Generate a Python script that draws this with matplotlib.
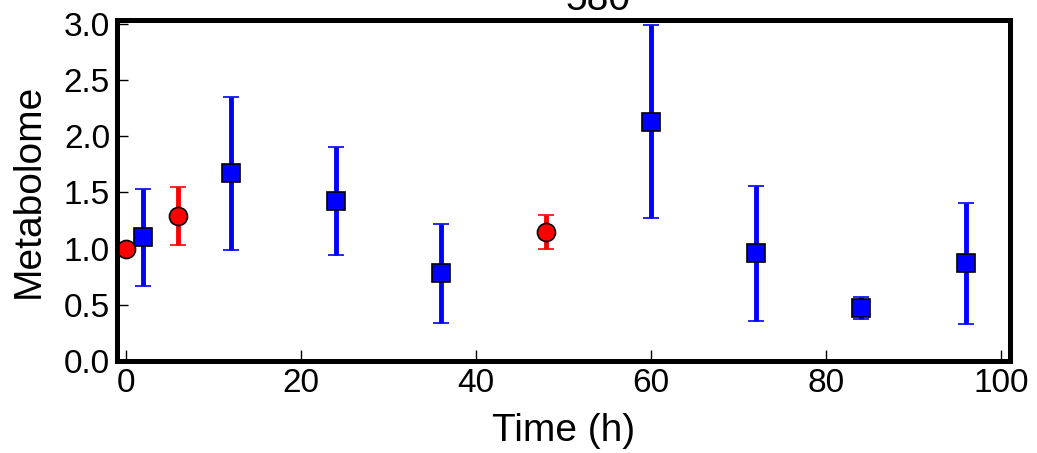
import matplotlib
matplotlib.use('Agg')
import matplotlib.pyplot as plt

plt.rcParams['font.family'] = ['Liberation Sans', 'DejaVu Sans']

# blue squares
sq_time = [2, 12, 24, 36, 60, 72, 84, 96]
sq_val = [1.10, 1.67, 1.42, 0.78, 2.13, 0.96, 0.47, 0.87]
sq_err = [0.43, 0.68, 0.48, 0.44, 0.86, 0.60, 0.10, 0.54]

# red circles
ci_time = [0, 6, 48]
ci_val = [1.00, 1.29, 1.15]
ci_err = [0.0, 0.255, 0.15]

fig = plt.figure(figsize=(10.37, 4.53), dpi=100)
ax = fig.add_axes([0.1128, 0.203, 0.8612, 0.752])

ax.errorbar(sq_time, sq_val, yerr=sq_err, fmt='s', color='blue', ecolor='blue',
            elinewidth=3.5, capsize=5.8, capthick=1.5, markersize=13,
            markeredgecolor='black', markeredgewidth=1.2)
ax.errorbar(ci_time, ci_val, yerr=ci_err, fmt='o', color='red', ecolor='red',
            elinewidth=3.5, capsize=5.8, capthick=1.5, markersize=13,
            markeredgecolor='black', markeredgewidth=1.2)

ax.set_xlim(-1, 101)
ax.set_ylim(0, 3.03)
ax.set_xticks([0, 20, 40, 60, 80, 100])
ax.set_yticks([0.0, 0.5, 1.0, 1.5, 2.0, 2.5, 3.0])
ax.set_yticklabels(['0.0', '0.5', '1.0', '1.5', '2.0', '2.5', '3.0'])
ax.tick_params(direction='in', length=8, width=1, labelsize=24, pad=5,
               top=False, right=False)

for s in ax.spines.values():
    s.set_linewidth(3.6)

ax.set_xlabel('Time (h)', fontsize=28, labelpad=10)
ax.set_ylabel('Metabolome', fontsize=28, labelpad=12)

fig.text(0.577, 0.978, '580', fontsize=28, ha='center', va='baseline')

fig.savefig('out.png', dpi=100)
